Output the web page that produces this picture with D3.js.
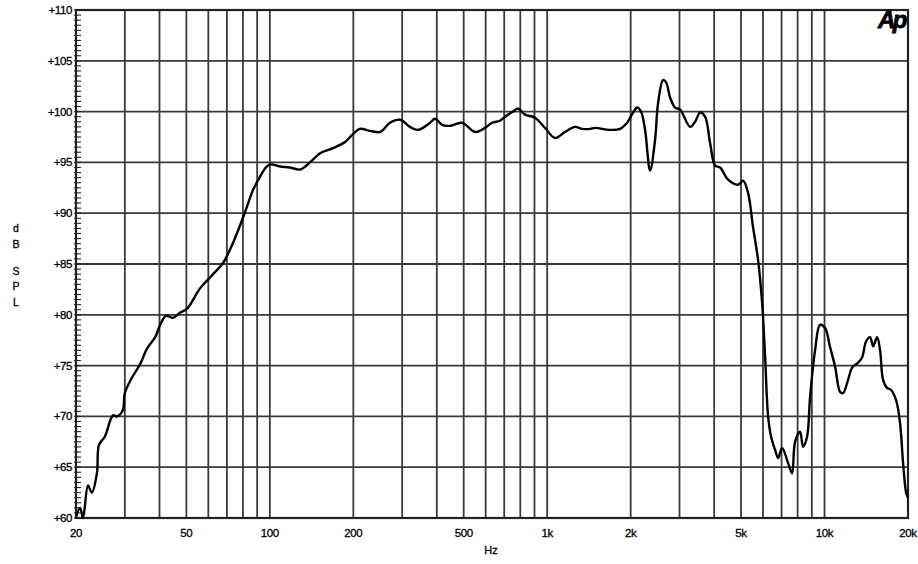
<!DOCTYPE html>
<html>
<head>
<meta charset="utf-8">
<script src="https://cdn.jsdelivr.net/npm/d3@7"></script>
<style>
  html, body { margin: 0; padding: 0; background: #fff; }
  svg { display: block; }
  text { font-family: "Liberation Sans", Arial, sans-serif; fill: #000; }
</style>
</head>
<body>
<svg id="chart" width="918" height="564"></svg>
<script>
// ---- data ----
const freqHz = [20, 20.7, 21.2, 22.1, 22.8, 23.8, 24.2, 25.4, 27.2, 28.1, 29.5, 30, 31.8, 34.0, 36.1, 38.6, 40.2, 42.2, 44.8, 47.4, 50.3,
  56, 62.4, 67.8, 73.7, 81.4, 87, 92.2, 96.1, 100.1, 108.8, 118, 128.5, 139.6, 151.7, 169, 186.7, 198, 211, 230, 250, 271, 295, 320, 342,
  378, 394, 418, 446, 493, 549, 597, 633, 676, 705, 753, 785, 832, 904, 982, 1067, 1160, 1260, 1336, 1428, 1488, 1685, 1832, 1941,
  2040, 2110, 2180, 2254, 2350, 2449, 2510, 2617, 2683, 2774, 2892, 3015, 3276, 3415, 3559, 3710, 3867, 4031, 4202, 4490, 4879,
  5085, 5301, 5526, 5760, 5956, 6106, 6260, 6418, 6634, 6802, 7031, 7392, 7638, 7830, 8162, 8369, 8652, 8870, 9246, 9639, 10048,
  10475, 10919, 11382, 11668, 12162, 12574, 13216, 13662, 14124, 14601, 14968, 15472, 15862, 16262, 16812, 17380, 18118, 18730,
  19202, 19686, 20000];
const splDb = [60.1, 61, 60, 63.2, 62.5, 64.4, 67.2, 68, 70.1, 70, 70.6, 72.3, 73.8, 75.1, 76.7, 77.8, 79, 79.9, 79.7, 80.2, 80.6,
  82.6, 84.0, 85.1, 87.1, 90.1, 92.3, 93.6, 94.4, 94.8, 94.6, 94.5, 94.3, 95, 95.9, 96.4, 97, 97.7, 98.3, 98.1, 98, 98.9, 99.2, 98.5, 98.2,
  98.9, 99.3, 98.7, 98.6, 98.9, 98, 98.4, 98.9, 99.1, 99.5, 100, 100.3, 99.7, 99.4, 98.4, 97.4, 98, 98.5, 98.3, 98.3, 98.4, 98.2, 98.3, 98.9,
  99.9, 100.4, 100, 98.2, 94.2, 97.2, 100.8, 103.1, 102.9, 101.4, 100.4, 100.2, 98.5, 99, 99.9, 99.5, 96.9, 94.7, 94.5, 93.3, 92.8,
  93.2, 92, 88.6, 85.4, 81.2, 75.9, 70, 68, 66.7, 65.9, 66.9, 65.4, 64.4, 67.5, 68.5, 67, 68, 71.9, 76.5, 79, 78.7,
  76.8, 74.9, 72.4, 72.3, 73.6, 74.8, 75.3, 75.8, 77.4, 77.8, 76.9, 77.8, 76.5, 73.6, 72.8, 72.6, 71.6, 69.3,
  65.4, 62.5, 62];

const xGridHz = [30, 40, 50, 60, 70, 80, 90, 100, 200, 300, 400, 500, 600, 700, 800, 900, 1000,
  2000, 3000, 4000, 5000, 6000, 7000, 8000, 9000, 10000];
const xTickHz = [20, 50, 100, 200, 500, 1000, 2000, 5000, 10000, 20000];
const xTickLabels = ["20", "50", "100", "200", "500", "1k", "2k", "5k", "10k", "20k"];
const yTickDb = [60, 65, 70, 75, 80, 85, 90, 95, 100, 105, 110];
const yTickLabels = ["+60", "+65", "+70", "+75", "+80", "+85", "+90", "+95", "+100", "+105", "+110"];
const yMinorDb = d3.range(60, 110.01, 0.5);
const yTitle = ["d", "B", "", "S", "P", "L"];

// ---- layout ----
const L = 76, R = 908, T = 10, B = 518;
const svg = d3.select("#chart");
const x = d3.scaleLog().domain([20, 20000]).range([L, R]);
const y = d3.scaleLinear().domain([60, 110]).range([B, T]);

const gridColor = "#3a3a3a";

// horizontal grid
svg.append("g").selectAll("line").data(yTickDb.slice(1, -1)).join("line")
  .attr("x1", L).attr("x2", R).attr("y1", d => y(d)).attr("y2", d => y(d))
  .attr("stroke", gridColor).attr("stroke-width", 1.8);

// vertical grid
svg.append("g").selectAll("line").data(xGridHz).join("line")
  .attr("x1", d => x(d)).attr("x2", d => x(d)).attr("y1", T).attr("y2", B)
  .attr("stroke", gridColor).attr("stroke-width", 1.8);

// minor ticks on left axis
svg.append("g").selectAll("line").data(yMinorDb).join("line")
  .attr("x1", L - 2).attr("x2", L + 5).attr("y1", d => y(d)).attr("y2", d => y(d))
  .attr("stroke", "#222").attr("stroke-width", 1.1);

// frame
svg.append("rect").attr("x", L).attr("y", T).attr("width", R - L).attr("height", B - T)
  .attr("fill", "none").attr("stroke", "#222").attr("stroke-width", 2.2);

const textStroke = sel => sel.attr("stroke", "#000").attr("stroke-width", 0.3);

// y tick labels
svg.append("g").selectAll("text").data(yTickDb).join("text")
  .attr("x", L - 4).attr("y", d => y(d) + 4)
  .attr("text-anchor", "end").attr("font-size", 11.5).attr("letter-spacing", -0.4)
  .call(textStroke)
  .text((d, i) => yTickLabels[i]);

// x tick labels
svg.append("g").selectAll("text").data(xTickHz).join("text")
  .attr("x", d => x(d)).attr("y", 537)
  .attr("text-anchor", "middle").attr("font-size", 11.5).attr("letter-spacing", -0.4)
  .call(textStroke)
  .text((d, i) => xTickLabels[i]);

svg.append("text").attr("x", 491).attr("y", 554).attr("text-anchor", "middle")
  .attr("font-size", 11).call(textStroke).text("Hz");

// y title (stacked letters)
svg.append("g").selectAll("text").data(yTitle).join("text")
  .attr("x", 16).attr("y", (d, i) => 232 + i * 15.5 - (i >= 2 ? 4 : 0))
  .attr("text-anchor", "middle").attr("font-size", 10.5).call(textStroke).text(d => d);

// Ap logo
svg.append("text").attr("x", 905).attr("y", 28).attr("text-anchor", "end")
  .attr("font-size", 24).attr("font-weight", "bold").attr("font-style", "italic")
  .attr("letter-spacing", -2.5).attr("font-family", "'DejaVu Sans', sans-serif")
  .attr("stroke", "#000").attr("stroke-width", 0.8)
  .text("Ap");

// curve
svg.append("clipPath").attr("id", "plotclip").append("rect")
  .attr("x", L).attr("y", T).attr("width", R - L).attr("height", B - T + 2);

const pts = freqHz.map((f, i) => [f, splDb[i]]);
const line = d3.line().x(d => x(d[0])).y(d => y(d[1])).curve(d3.curveCatmullRom.alpha(0.5));
svg.append("path").attr("d", line(pts)).attr("clip-path", "url(#plotclip)")
  .attr("fill", "none").attr("stroke", "#000").attr("stroke-width", 2.4)
  .attr("stroke-linejoin", "round").attr("stroke-linecap", "round");
</script>
</body>
</html>
